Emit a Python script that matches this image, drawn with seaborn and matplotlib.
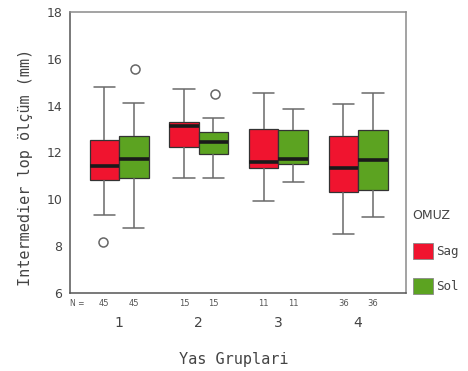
import pandas as pd
import numpy as np
import seaborn as sns
import matplotlib.pyplot as plt
from matplotlib.patches import Patch
from matplotlib.colors import to_hex
import matplotlib.transforms as mtransforms

# gruplar ve omuz tarafi
groups = ["1", "2", "3", "4"]
sides = ["Sag", "Sol"]
n_counts = [45, 45, 15, 15, 11, 11, 36, 36]

# her kutu icin: alt biyik, Q1, medyan, Q3, ust biyik (okunan degerler)
sag_stats = [
    [9.33, 10.83, 11.43, 12.54, 14.80],
    [10.90, 12.24, 13.13, 13.30, 14.72],
    [9.93, 11.34, 11.60, 13.00, 14.55],
    [8.52, 10.32, 11.34, 12.70, 14.08],
]
sol_stats = [
    [8.78, 10.90, 11.73, 12.70, 14.12],
    [10.90, 11.94, 12.45, 12.88, 13.48],
    [10.74, 11.50, 11.73, 12.97, 13.86],
    [9.25, 10.40, 11.68, 12.97, 14.55],
]
# aykiri degerler
out_group = ["1", "1", "2"]
out_side = ["Sag", "Sol", "Sol"]
out_value = [8.18, 15.57, 14.50]

colors = {"Sag": "#F0142F", "Sol": "#5CA321"}
capcol = "#6a6a6a"

rows = []
for g, a, b in zip(groups, sag_stats, sol_stats):
    for v in a:
        rows.append((g, "Sag", v))
    for v in b:
        rows.append((g, "Sol", v))
df = pd.DataFrame(rows, columns=["grup", "omuz", "deger"])
outl = pd.DataFrame({"grup": out_group, "omuz": out_side, "deger": out_value})

sns.set_style("white")
fig = plt.figure(figsize=(4.68, 3.71), dpi=100)
ax = fig.add_axes([0.1496, 0.2102, 0.7179, 0.7575])

bw = 0.74
sns.boxplot(data=df, x="grup", y="deger", hue="omuz", order=groups, hue_order=sides,
            palette=colors, width=bw, gap=0, whis=(0, 100), saturation=1,
            linecolor="#333333", linewidth=0.9, showfliers=False, legend=False,
            medianprops=dict(color="#1a1a1a", linewidth=2.6),
            whiskerprops=dict(color=capcol, linewidth=1.1),
            capprops=dict(color=capcol, linewidth=1.1), ax=ax)
# biyik uclarini genislet
for ln in ax.lines:
    xd = np.asarray(ln.get_xdata(), dtype=float)
    yd = np.asarray(ln.get_ydata(), dtype=float)
    if len(xd) == 2 and yd[0] == yd[1] and to_hex(ln.get_color()) == capcol:
        m = xd.mean()
        ln.set_xdata(m + (xd - m) * 1.45)

sns.stripplot(data=outl, x="grup", y="deger", hue="omuz", order=groups, hue_order=sides,
              dodge=True, jitter=False, palette={"Sag": "white", "Sol": "white"},
              edgecolor="#666666", linewidth=1.1, size=6.5, legend=False, ax=ax)

ax.set_ylim(6, 18)
ax.set_xlim(-0.615, 3.6)
ax.set_yticks([6, 8, 10, 12, 14, 16, 18])
ax.tick_params(axis="both", length=2.5, width=2, color="#111111", pad=3,
               labelcolor="#444444")
ax.tick_params(axis="y", labelsize=9)
ax.tick_params(axis="x", labelsize=10, pad=14)
for s in ax.spines.values():
    s.set_color("#8a8a8a")
    s.set_linewidth(1.1)
ax.spines["left"].set_color("#555555")
ax.spines["bottom"].set_color("#555555")

mono = "DejaVu Sans Mono"
ax.set_ylabel("Intermedier lop ölçüm (mm)", family=mono, fontsize=11, color="#444444")
ax.yaxis.set_label_coords(-0.11, 0.448)
ax.set_xlabel("Yas Gruplari", family=mono, fontsize=11, color="#444444")
ax.xaxis.set_label_coords(0.488, -0.21)

# N satiri
trans = mtransforms.blended_transform_factory(ax.transData, ax.transAxes)
ax.text(0.0, -0.036, "N =", transform=ax.transAxes, fontsize=5.5, color="#555555",
        ha="left", va="center")
k = 0
for i in range(len(groups)):
    for off in (-bw / 4, bw / 4):
        ax.text(i + off, -0.036, str(n_counts[k]), transform=trans, fontsize=6,
                color="#555555", ha="center", va="center")
        k += 1

handles = [Patch(facecolor=colors[s], edgecolor="#888888", linewidth=0.6) for s in sides]
leg = ax.legend(handles, sides, title="OMUZ", loc="upper left",
                bbox_to_anchor=(1.005, 0.315), frameon=False, prop={"family": mono, "size": 9},
                handlelength=1.6, handleheight=1.6, handletextpad=0.3, labelspacing=1.45,
                borderaxespad=0, alignment="left")
leg.get_title().set_fontsize(9)
leg.get_title().set_color("#444444")
leg._legend_box.sep = 15
for t in leg.get_texts():
    t.set_color("#444444")

fig.savefig("out.png", dpi=100)
